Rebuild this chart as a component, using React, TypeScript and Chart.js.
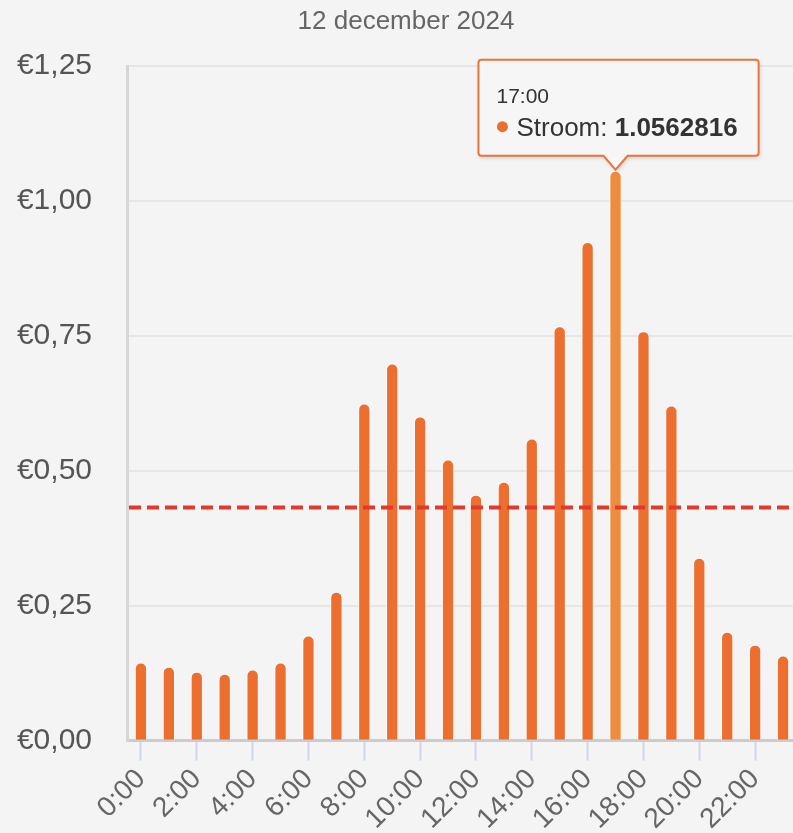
import React, { useEffect, useRef } from "react";
import { Chart, registerables } from "chart.js";

Chart.register(...registerables);

const TITLE = "12 december 2024";
const SERIES_NAME = "Stroom";
const HOURS = [
  "0:00", "1:00", "2:00", "3:00", "4:00", "5:00", "6:00", "7:00",
  "8:00", "9:00", "10:00", "11:00", "12:00", "13:00", "14:00", "15:00",
  "16:00", "17:00", "18:00", "19:00", "20:00", "21:00", "22:00", "23:00",
];
const PRICES = [
  0.145, 0.137, 0.128, 0.124, 0.132, 0.145, 0.195, 0.276,
  0.625, 0.699, 0.601, 0.521, 0.456, 0.48, 0.56, 0.768,
  0.924, 1.0562816, 0.759, 0.621, 0.339, 0.202, 0.178, 0.158,
];
const AVERAGE = 0.432;
const ACTIVE_INDEX = 17;
const Y_MIN = 0;
const Y_MAX = 1.25;
const Y_STEP = 0.25;

const FONT = "'Liberation Sans', Arial, Helvetica, sans-serif";
const BAR_COLOR = "#ec6f2f";
const BAR_HOVER = "#ef8b3d";

const averageLinePlugin = {
  id: "averageLine",
  afterDatasetsDraw(chart: any) {
    const { ctx, chartArea, scales } = chart;
    const y = scales.y.getPixelForValue(AVERAGE);
    ctx.save();
    ctx.strokeStyle = "#e3382c";
    ctx.lineWidth = 4;
    ctx.setLineDash([12, 6]);
    ctx.beginPath();
    ctx.moveTo(chartArea.left + 2, y);
    ctx.lineTo(chartArea.right, y);
    ctx.stroke();
    ctx.restore();
  },
};

const tooltipPlugin = {
  id: "customTip",
  afterDraw(chart: any) {
    const active = chart.getActiveElements();
    if (!active.length) return;
    const { datasetIndex, index } = active[0];
    const el = chart.getDatasetMeta(datasetIndex).data[index];
    const ctx = chart.ctx;
    const tipX = el.x;
    const tipY = el.y - 1;
    const titleText = HOURS[index];
    const label = SERIES_NAME + ": ";
    const valueText = String(chart.data.datasets[datasetIndex].data[index]);

    ctx.save();
    ctx.font = `26px ${FONT}`;
    const lw = ctx.measureText(label).width;
    ctx.font = `bold 26px ${FONT}`;
    const vw = ctx.measureText(valueText).width;
    const padL = 18;
    const padR = 21;
    const w = padL + 20 + lw + vw + padR;
    const h = 96;
    const caretH = 14;
    const caretW = 12;
    const bottom = tipY - caretH;
    const top = bottom - h;
    const left = tipX - w / 2 + 3;
    const right = left + w;
    const r = 3;

    const path = () => {
      ctx.beginPath();
      ctx.moveTo(left + r, top);
      ctx.lineTo(right - r, top);
      ctx.arcTo(right, top, right, top + r, r);
      ctx.lineTo(right, bottom - r);
      ctx.arcTo(right, bottom, right - r, bottom, r);
      ctx.lineTo(tipX + caretW, bottom);
      ctx.lineTo(tipX, tipY);
      ctx.lineTo(tipX - caretW, bottom);
      ctx.lineTo(left + r, bottom);
      ctx.arcTo(left, bottom, left, bottom - r, r);
      ctx.lineTo(left, top + r);
      ctx.arcTo(left, top, left + r, top, r);
      ctx.closePath();
    };

    ctx.shadowColor = "rgba(0,0,0,0.18)";
    ctx.shadowBlur = 4;
    ctx.shadowOffsetX = 1;
    ctx.shadowOffsetY = 2;
    path();
    ctx.fillStyle = "rgba(247,247,247,0.97)";
    ctx.fill();
    ctx.shadowColor = "transparent";
    ctx.lineWidth = 2;
    ctx.strokeStyle = "#e8763a";
    path();
    ctx.stroke();

    ctx.textAlign = "left";
    ctx.textBaseline = "alphabetic";
    ctx.fillStyle = "#333";
    ctx.font = `21px ${FONT}`;
    ctx.fillText(titleText, left + padL, top + 43);

    const by = top + 76;
    ctx.fillStyle = BAR_COLOR;
    ctx.beginPath();
    ctx.arc(left + padL + 6, by - 9, 5.5, 0, Math.PI * 2);
    ctx.fill();
    ctx.fillStyle = "#333";
    ctx.font = `26px ${FONT}`;
    ctx.fillText(label, left + padL + 20, by);
    ctx.font = `bold 26px ${FONT}`;
    ctx.fillText(valueText, left + padL + 20 + lw, by);
    ctx.restore();
  },
};

export default function App() {
  const canvasRef = useRef<HTMLCanvasElement | null>(null);

  useEffect(() => {
    document.body.style.margin = "0";
    document.body.style.background = "#f4f4f4";
    const canvas = canvasRef.current;
    if (!canvas) return;
    const chart = new Chart(canvas, {
      type: "bar",
      data: {
        labels: HOURS,
        datasets: [
          {
            label: SERIES_NAME,
            data: PRICES,
            backgroundColor: BAR_COLOR,
            hoverBackgroundColor: BAR_HOVER,
            borderColor: "rgba(255,255,255,0.9)",
            hoverBorderColor: "rgba(255,255,255,0.9)",
            borderWidth: 1,
            borderSkipped: "start",
            borderRadius: { topLeft: 6, topRight: 6, bottomLeft: 0, bottomRight: 0 },
            barPercentage: 0.44,
            categoryPercentage: 1,
          },
        ],
      },
      options: {
        responsive: false,
        animation: false,
        events: [],
        layout: { padding: { left: 15, right: 18, top: 0, bottom: 0 } },
        plugins: {
          legend: { display: false },
          tooltip: { enabled: false },
          title: {
            display: true,
            text: TITLE,
            color: "#666",
            font: { family: FONT, size: 26, weight: "normal" },
            padding: { top: 6, bottom: 29 },
          },
        },
        scales: {
          x: {
            offset: true,
            afterFit: (scale: any) => {
              scale.paddingLeft = 0;
              scale.paddingRight = 0;
            },
            grid: {
              offset: false,
              drawOnChartArea: false,
              drawTicks: true,
              tickLength: 20,
              tickWidth: 2,
              tickColor: (c: any) => (c.index % 2 === 0 ? "#ccd6eb" : "rgba(0,0,0,0)"),
            },
            border: { display: true, color: "#cccccc", width: 3 },
            ticks: {
              autoSkip: false,
              maxRotation: 45,
              minRotation: 45,
              padding: 2,
              color: "#666",
              font: { family: FONT, size: 28 },
              callback: (_v: any, i: number) => (i % 2 === 0 ? HOURS[i] : ""),
            },
          },
          y: {
            min: Y_MIN,
            max: Y_MAX,
            afterFit: (scale: any) => {
              scale.width = 112;
            },
            grid: { color: "#e6e6e6", lineWidth: 2, drawTicks: false },
            border: { display: true, color: "#d6d6d6", width: 3 },
            ticks: {
              stepSize: Y_STEP,
              padding: 35,
              color: "#555",
              font: { family: FONT, size: 30 },
              callback: (v: any) => "€" + Number(v).toFixed(2).replace(".", ","),
            },
          },
        },
      },
      plugins: [averageLinePlugin, tooltipPlugin],
    });
    chart.setActiveElements([{ datasetIndex: 0, index: ACTIVE_INDEX }]);
    chart.update();
    return () => chart.destroy();
  }, []);

  return (
    <div style={{ width: 793, height: 833, overflow: "hidden", background: "#f4f4f4", position: "relative" }}>
      <canvas ref={canvasRef} width={815} height={838} style={{ display: "block" }} />
    </div>
  );
}
